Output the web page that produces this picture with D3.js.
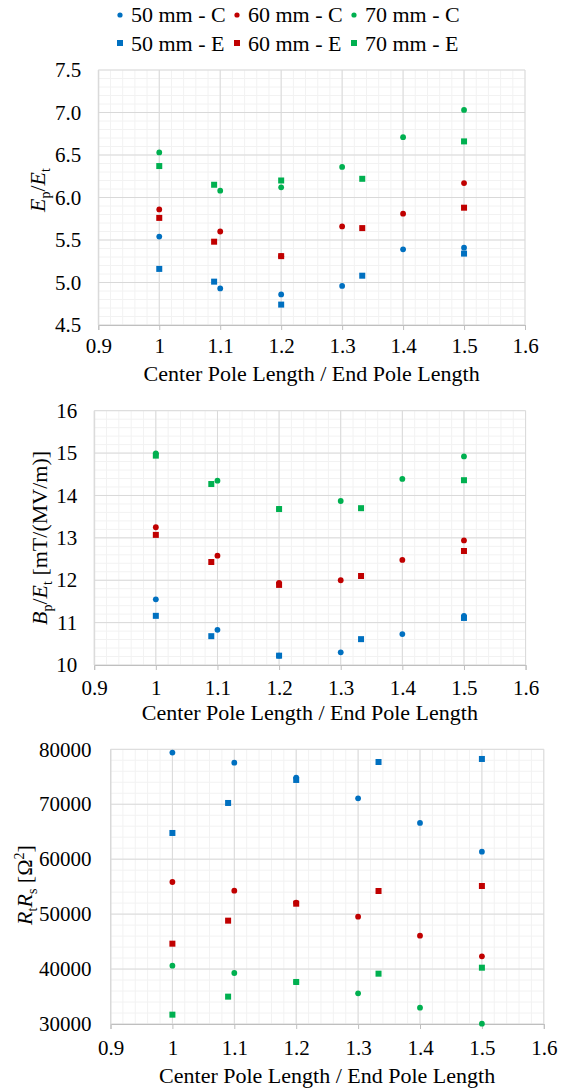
<!DOCTYPE html>
<html>
<head>
<meta charset="utf-8">
<script src="https://cdn.jsdelivr.net/npm/d3@7"></script>
<style>
  body { margin: 0; background: #fff; }
  svg text { font-family: "Liberation Serif", "Times New Roman", serif; fill: #000; }
</style>
</head>
<body>
<div id="chart"></div>
<script>
// x positions of the two series families
var ratioC = [1.0, 1.1, 1.2, 1.3, 1.4, 1.5];
var ratioE = [1.0, 1.09, 1.2, 1.333, 1.5];

var seriesNames = ['50 mm - C', '60 mm - C', '70 mm - C', '50 mm - E', '60 mm - E', '70 mm - E'];
var seriesColors = ['#0070c0', '#c00000', '#00b050'];
var xTicks = [0.9, 1, 1.1, 1.2, 1.3, 1.4, 1.5, 1.6];

// Ep/Et
var ep50C = [5.54, 4.93, 4.86, 4.96, 5.39, 5.41];
var ep60C = [5.86, 5.60, 5.31, 5.66, 5.81, 6.17];
var ep70C = [6.53, 6.08, 6.12, 6.36, 6.71, 7.03];
var ep50E = [5.16, 5.01, 4.74, 5.08, 5.34];
var ep60E = [5.76, 5.48, 5.31, 5.64, 5.88];
var ep70E = [6.37, 6.15, 6.20, 6.22, 6.66];
var epTicks = [4.5, 5.0, 5.5, 6.0, 6.5, 7.0, 7.5];

// Bp/Et
var bp50C = [11.55, 10.83, 10.22, 10.30, 10.73, 11.16];
var bp60C = [13.25, 12.58, 11.94, 12.00, 12.48, 12.94];
var bp70C = [14.99, 14.35, 13.68, 13.87, 14.39, 14.92];
var bp50E = [11.16, 10.68, 10.22, 10.61, 11.11];
var bp60E = [13.07, 12.43, 11.89, 12.10, 12.69];
var bp70E = [14.94, 14.27, 13.68, 13.70, 14.36];
var bpTicks = [10, 11, 12, 13, 14, 15, 16];

// Rt*Rs
var rr50C = [79400, 77570, 74840, 71080, 66590, 61370];
var rr60C = [55850, 54270, 52090, 49540, 46080, 42320];
var rr70C = [40620, 39280, 37650, 35580, 32970, 30060];
var rr50E = [64770, 70230, 74420, 77690, 78240];
var rr60E = [44620, 48810, 51900, 54210, 55120];
var rr70E = [31700, 34980, 37650, 39160, 40250];
var rrTicks = [30000, 40000, 50000, 60000, 70000, 80000];

var W = 565, H = 1089;

var svg = d3.select('#chart').append('svg')
  .attr('width', W)
  .attr('height', H);

var panels = [
  {
    top: 70, bottom: 325, left: 98.3, right: 525,
    yTicks: epTicks, yMinor: 0.1, fmt: d3.format('.1f'), pad: 17,
    xPad: 8, titleOff: 56,
    series: [ep50C, ep60C, ep70C, ep50E, ep60E, ep70E],
    labelX: 45, labelY: 190,
    label: [{t: 'E', i: true}, {t: 'p', sub: true}, {t: '/'}, {t: 'E', i: true}, {t: 't', sub: true}]
  },
  {
    top: 410.7, bottom: 665, left: 94.2, right: 525.6,
    yTicks: bpTicks, yMinor: 0.2, fmt: d3.format('d'), pad: 17,
    xPad: 10, titleOff: 55,
    series: [bp50C, bp60C, bp70C, bp50E, bp60E, bp70E],
    labelX: 46.5, labelY: 538,
    label: [{t: 'B', i: true}, {t: 'p', sub: true}, {t: '/'}, {t: 'E', i: true}, {t: 't', sub: true}, {t: ' [mT/(MV/m)]'}]
  },
  {
    top: 749.3, bottom: 1024, left: 110.5, right: 543.8,
    yTicks: rrTicks, yMinor: 2000, fmt: d3.format('d'), pad: 19,
    xPad: 11, titleOff: 59,
    series: [rr50C, rr60C, rr70C, rr50E, rr60E, rr70E],
    labelX: 31.5, labelY: 885,
    label: [{t: 'R', i: true}, {t: 't', sub: true}, {t: 'R', i: true}, {t: 's', sub: true}, {t: ' [\u03A9'}, {t: '2', sup: true}, {t: ']'}]
  }
];

panels.forEach(drawPanel);
drawLegend();

function drawPanel(p) {
  var yMin = p.yTicks[0], yMax = p.yTicks[p.yTicks.length - 1];
  var x = d3.scaleLinear().domain([0.9, 1.6]).range([p.left, p.right]);
  var y = d3.scaleLinear().domain([yMin, yMax]).range([p.bottom, p.top]);

  var g = svg.append('g');

  // minor grid
  var xMinor = d3.range(0, 36).map(function(i) { return +(0.9 + i * 0.02).toFixed(2); });
  var nY = Math.round((yMax - yMin) / p.yMinor);
  var yMinorVals = d3.range(0, nY + 1).map(function(i) { return yMin + i * p.yMinor; });

  g.selectAll('.xminor').data(xMinor).enter().append('line')
    .attr('x1', function(d) { return x(d); }).attr('x2', function(d) { return x(d); })
    .attr('y1', p.top).attr('y2', p.bottom)
    .attr('stroke', '#f2f2f2').attr('stroke-width', 1);

  g.selectAll('.yminor').data(yMinorVals).enter().append('line')
    .attr('x1', p.left).attr('x2', p.right)
    .attr('y1', function(d) { return y(d); }).attr('y2', function(d) { return y(d); })
    .attr('stroke', '#f2f2f2').attr('stroke-width', 1);

  // major grid
  g.selectAll('.xmajor').data(xTicks).enter().append('line')
    .attr('x1', function(d) { return x(d); }).attr('x2', function(d) { return x(d); })
    .attr('y1', p.top).attr('y2', p.bottom)
    .attr('stroke', '#d9d9d9').attr('stroke-width', 1);

  g.selectAll('.ymajor').data(p.yTicks).enter().append('line')
    .attr('x1', p.left).attr('x2', p.right)
    .attr('y1', function(d) { return y(d); }).attr('y2', function(d) { return y(d); })
    .attr('stroke', '#d9d9d9').attr('stroke-width', 1);

  // axes
  var xAxis = d3.axisBottom(x)
    .tickValues(xTicks)
    .tickSize(5)
    .tickPadding(p.xPad)
    .tickFormat(function(d) { return String(d); });

  var yAxis = d3.axisLeft(y)
    .tickValues(p.yTicks)
    .tickSize(0)
    .tickPadding(p.pad)
    .tickFormat(p.fmt);

  var xg = g.append('g')
    .attr('transform', 'translate(0,' + p.bottom + ')')
    .call(xAxis);
  xg.attr('font-family', null).attr('font-size', 21);
  xg.select('.domain').attr('stroke', '#bfbfbf');
  xg.selectAll('.tick line').attr('stroke', '#bfbfbf');

  var yg = g.append('g')
    .attr('transform', 'translate(' + p.left + ',0)')
    .call(yAxis);
  yg.attr('font-family', null).attr('font-size', 21);
  yg.select('.domain').attr('stroke', '#d9d9d9');

  // x title
  g.append('text')
    .attr('x', (p.left + p.right) / 2)
    .attr('y', p.bottom + p.titleOff)
    .attr('text-anchor', 'middle')
    .attr('font-size', 22)
    .text('Center Pole Length / End Pole Length');

  // y title
  var yt = g.append('text')
    .attr('transform', 'translate(' + p.labelX + ',' + p.labelY + ') rotate(-90)')
    .attr('text-anchor', 'middle')
    .attr('font-size', 22);
  var shift = 0;
  p.label.forEach(function(s) {
    var want = s.sub ? 5 : (s.sup ? -8 : 0);
    var ts = yt.append('tspan')
      .attr('dy', want - shift)
      .text(s.t);
    if (s.i) ts.attr('font-style', 'italic');
    if (s.sub || s.sup) ts.attr('font-size', 14);
    shift = want;
  });

  // markers
  p.series.forEach(function(vals, k) {
    var xs = k < 3 ? ratioC : ratioE;
    var pts = vals.map(function(v, i) { return {x: xs[i], y: v}; });
    var col = seriesColors[k % 3];
    if (k < 3) {
      g.selectAll('.c' + k).data(pts).enter().append('circle')
        .attr('cx', function(d) { return x(d.x); })
        .attr('cy', function(d) { return y(d.y); })
        .attr('r', 2.9)
        .attr('fill', col);
    } else {
      g.selectAll('.s' + k).data(pts).enter().append('rect')
        .attr('x', function(d) { return x(d.x) - 3; })
        .attr('y', function(d) { return y(d.y) - 3; })
        .attr('width', 6)
        .attr('height', 6)
        .attr('fill', col);
    }
  });
}

function drawLegend() {
  var lg = svg.append('g');
  seriesNames.forEach(function(name, k) {
    var col = k % 3, row = Math.floor(k / 3);
    var cx = 120 + col * 117;
    var cy = row === 0 ? 15 : 43;
    if (row === 0) {
      lg.append('circle').attr('cx', cx).attr('cy', cy).attr('r', 2.6).attr('fill', seriesColors[col]);
    } else {
      lg.append('rect').attr('x', cx - 3).attr('y', cy - 3).attr('width', 6).attr('height', 6).attr('fill', seriesColors[col]);
    }
    lg.append('text')
      .attr('x', cx + 11)
      .attr('y', row === 0 ? 22 : 50.5)
      .attr('font-size', 22)
      .text(name);
  });
}
</script>
</body>
</html>
